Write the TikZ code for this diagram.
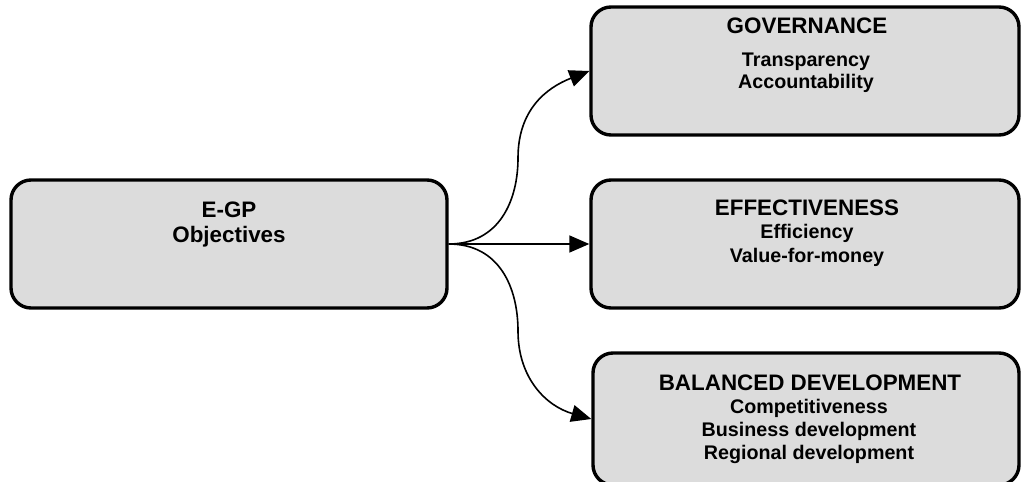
\documentclass[tikz,border=0pt]{standalone}
\usepackage{fontspec}
\setmainfont{Liberation Sans}
\usetikzlibrary{arrows.meta}
\definecolor{boxfill}{RGB}{220,220,220}
\begin{document}
\begin{tikzpicture}[x=1pt,y=-1pt,
  box/.style={draw=black,line width=3.4pt,fill=boxfill,rounded corners=20pt,inner sep=0pt},
  head/.style={anchor=base,font=\bfseries\fontsize{22.4}{26}\selectfont,inner sep=0pt},
  sub/.style={anchor=base,font=\bfseries\fontsize{19.7}{22}\selectfont,inner sep=0pt},
  conn/.style={line width=1.6pt,-{Triangle[length=20pt,width=17pt]}}]
\useasboundingbox (0,0) rectangle (1021,482);
\node[box,minimum width=436pt,minimum height=128pt] (obj) at (229,244) {};
\node[box,minimum width=428pt,minimum height=128pt] (gov) at (805,71) {};
\node[box,minimum width=428pt,minimum height=128pt] (eff) at (805,244) {};
\node[box,minimum width=426pt,minimum height=132pt] (bal) at (806,419) {};
% left box text
\node[head] (t1) at (229,217) {E-GP};
\node[head] (t2) at (229,242) {Objectives};
% governance
\node[head] (g1) at (807,33) {GOVERNANCE};
\node[sub] (g2) at (806,66.5) {Transparency};
\node[sub] (g3) at (806,88.5) {Accountability};
% effectiveness
\node[head] (e1) at (807,215) {EFFECTIVENESS};
\node[sub] (e2) at (807,238.5) {Efficiency};
\node[sub] (e3) at (807,262) {Value-for-money};
% balanced development
\node[head] (b1) at (810,390) {BALANCED DEVELOPMENT};
\node[sub] (b2) at (809,413) {Competitiveness};
\node[sub] (b3) at (809,436.5) {Business development};
\node[sub] (b4) at (809,459) {Regional development};
% connectors
\coordinate (m1) at (518,158);
\coordinate (m3) at (518,331);
\draw[conn] (obj.east) .. controls +(51,0) and (518,200) .. (m1) .. controls (518,110) and (546,88) .. (gov.west);
\draw[conn] (obj.east) -- (eff.west);
\draw[conn] (obj.east) .. controls +(51,0) and (518,288) .. (m3) .. controls (518,378) and (546,406) .. (bal.west);
\end{tikzpicture}
\end{document}
